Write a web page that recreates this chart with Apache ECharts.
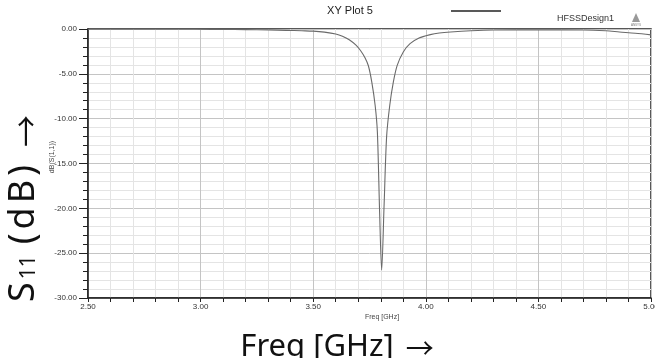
<!DOCTYPE html>
<html><head><meta charset="utf-8">
<script src="https://cdn.jsdelivr.net/npm/echarts@6/dist/echarts.min.js"></script>
<style>html,body{margin:0;padding:0;background:#fff;overflow:hidden}#c{width:655px;height:358px}</style>
</head><body><div id="c"></div>
<script>
var freq = [2.50,2.70,2.90,3.05,3.10,3.20,3.30,3.38,3.45,3.50,3.55,3.60,3.63,3.66,3.69,3.71,3.73,3.745,3.76,3.775,3.785,3.795,3.804,3.815,3.826,3.84,3.856,3.873,3.90,3.93,3.97,4.02,4.06,4.11,4.20,4.30,4.50,4.70,4.80,4.86,4.93,5.00];
var s11 = [-0.02,-0.02,-0.03,-0.04,-0.05,-0.07,-0.10,-0.15,-0.20,-0.24,-0.35,-0.55,-0.80,-1.20,-1.80,-2.40,-3.20,-4.10,-5.90,-8.50,-11.5,-20.5,-26.9,-19.5,-12.0,-8.50,-5.90,-4.05,-2.56,-1.64,-1.00,-0.63,-0.45,-0.33,-0.19,-0.11,-0.10,-0.11,-0.20,-0.33,-0.47,-0.65];
var yTicks = [0,-5,-10,-15,-20,-25,-30];
var xTicks = [2.5,3.0,3.5,4.0,4.5,5.0];
var titleText = 'XY Plot 5';
var designText = 'HFSSDesign1';

var chart = echarts.init(document.getElementById('c'), null, {renderer:'canvas'});
var small = "'Liberation Sans Narrow','Liberation Sans',Arial,sans-serif";
var big = "'Noto Sans',sans-serif";
var arrowFont = "'Noto Sans CJK SC','DejaVu Sans',sans-serif";
var data = freq.map(function(f,i){return [f, s11[i]];});
var ch = {fontFamily:big, fontSize:36, fill:'#111', verticalAlign:'bottom', padding:[0,2,0,2]};
chart.setOption({
  animation:false,
  backgroundColor:'#fff',
  grid:{left:88, top:29, right:4, bottom:60, show:true, borderColor:'#222', borderWidth:1.5, backgroundColor:'transparent', containLabel:false, outerBoundsMode:'none'},
  xAxis:{type:'value', min:2.5, max:5.0, interval:0.5,
    axisLine:{onZero:false, lineStyle:{color:'#222', width:1.5}},
    axisTick:{show:true, length:4, lineStyle:{color:'#222'}},
    minorTick:{show:true, splitNumber:5, length:4, lineStyle:{color:'#222'}},
    splitLine:{show:true, lineStyle:{color:'#c4c4c4', width:1}},
    minorSplitLine:{show:true, lineStyle:{color:'#e4e4e4', width:1}},
    axisLabel:{fontFamily:small, fontSize:8, color:'#333', margin:5, hideOverlap:false, formatter:function(v){return v.toFixed(2);}}
  },
  yAxis:{type:'value', min:-30, max:0, interval:5,
    axisLine:{onZero:false, lineStyle:{color:'#222', width:1.5}},
    axisTick:{show:true, length:9, lineStyle:{color:'#222'}},
    minorTick:{show:true, splitNumber:5, length:5, lineStyle:{color:'#222'}},
    splitLine:{show:true, lineStyle:{color:'#c4c4c4', width:1}},
    minorSplitLine:{show:true, lineStyle:{color:'#e4e4e4', width:1}},
    axisLabel:{fontFamily:small, fontSize:8, color:'#333', margin:11, formatter:function(v){return v.toFixed(2);}}
  },
  series:[{type:'line', data:data, showSymbol:false, smooth:0.3, lineStyle:{color:'#6a6a6a', width:1.1}, clip:true}],
  graphic:[
    {type:'text', x:350, y:11, style:{text:titleText, fontFamily:"'Liberation Sans',Arial,sans-serif", fontSize:11, fill:'#222', align:'center', verticalAlign:'middle'}},
    {type:'line', shape:{x1:451, y1:11, x2:501, y2:11}, style:{stroke:'#222', lineWidth:1.3}},
    {type:'text', x:614, y:19, style:{text:designText, fontFamily:small, fontSize:9, fill:'#333', align:'right', verticalAlign:'middle'}},
    {type:'polygon', shape:{points:[[636,13],[632,22],[640,22]]}, style:{fill:'#999'}},
    {type:'text', x:636, y:25, style:{text:'ANSYS', fontFamily:small, fontSize:3, fill:'#777', align:'center', verticalAlign:'middle'}},
    {type:'text', x:52, y:157, rotation:Math.PI/2, style:{text:'dB(S(1,1))', fontFamily:small, fontSize:7, fill:'#444', align:'center', verticalAlign:'middle'}},
    {type:'text', x:382, y:317, style:{text:'Freq [GHz]', fontFamily:small, fontSize:7, fill:'#444', align:'center', verticalAlign:'middle'}},
    {type:'text', x:24, y:304, rotation:Math.PI/2, style:{
      text:'{a|S}{b|11}{g| }{a|(}{a|d}{a|B}{a|)}{h| }{c|→}', align:'left', verticalAlign:'middle',
      rich:{a:ch,
            b:{fontFamily:big, fontSize:21, fill:'#111', verticalAlign:'bottom', padding:[0,0,2,1]},
            g:{fontFamily:big, fontSize:20, width:9},
            h:{fontFamily:big, fontSize:20, width:16},
            c:{fontFamily:arrowFont, fontSize:32, fill:'#111', verticalAlign:'bottom'}}}},
    {type:'text', x:337, y:347, style:{
      text:'{a|Freq [GHz]}{h| }{c|→}', align:'center', verticalAlign:'middle',
      rich:{a:{fontFamily:big, fontSize:31, fill:'#111', verticalAlign:'bottom'},
            h:{fontFamily:big, fontSize:20, width:12},
            c:{fontFamily:arrowFont, fontSize:28, fill:'#111', verticalAlign:'bottom'}}}}
  ]
});
</script></body></html>
